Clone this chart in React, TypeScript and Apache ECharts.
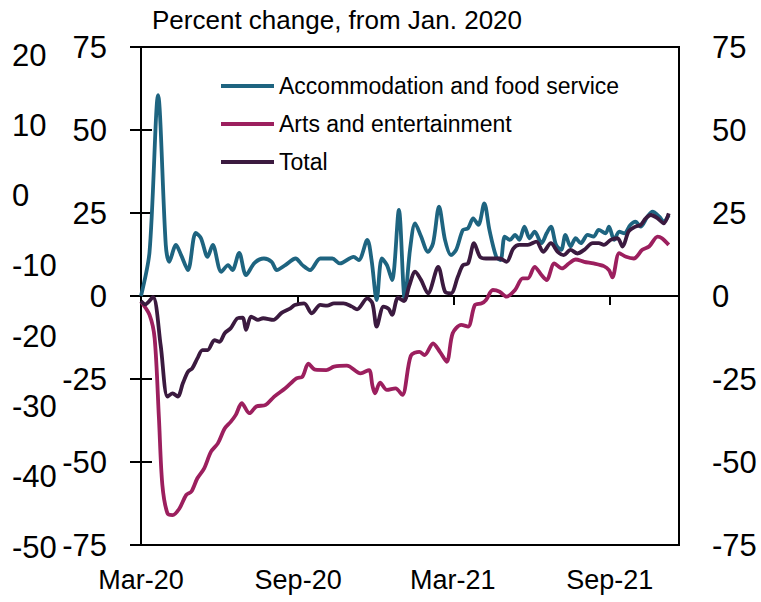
import React, { useEffect, useRef } from "react";
import * as echarts from "echarts";

// x positions are days since 1 Mar 2020
const xMaxDay = 630;
const xTickDays = [0, 184, 365, 549];
const xTickLabels = ["Mar-20", "Sep-20", "Mar-21", "Sep-21"];
const zeroLineTickInterval = 183;

const titleText = "Percent change, from Jan. 2020";
const seriesNames = ["Accommodation and food service", "Arts and entertainment", "Total"];
const seriesColors = ["#1E6480", "#9C1F5E", "#3B1A3F"];

const accomDays = [0,10,20,29,33,41,47,55,64,70,78,84,94,102,107,115,123,133,144,153,159,169,181,189,198,210,224,233,249,255,265,270,276,282,288,294,302,309,315,321,328,336,342,349,356,363,369,377,383,389,395,402,408,416,421,426,432,438,443,449,455,461,469,475,480,486,492,497,503,509,515,523,530,536,544,548,554,560,566,573,579,585,593,599,607,612,618];
const accomValues = [0,13.3,60.5,15.4,10.3,15.4,12.3,7.8,19,17.5,11.8,15.4,7.3,9.3,7.8,13,6.3,10,11.3,10.3,7.8,9.3,11.3,9.3,7.8,11.3,11.3,9.8,11.8,10.8,16.9,10.8,-1.2,11.3,9.3,4.8,25.9,-1.2,13.9,21.9,17.9,13.3,15.9,26.9,16.9,12.3,13.9,19.9,20.4,23.4,21.4,27.9,19.9,11.8,10.8,17.9,16.9,18.4,16.9,20.9,17.4,19.4,15.9,18.9,20.9,15.4,13.9,18.4,14.9,17.4,15.9,18.4,17.9,19.9,18.9,20.9,16.9,19.4,18.9,21.4,22.4,20.9,23.9,25.4,23.9,22.4,24.4];

const artsDays = [0,10,16,21,25,31,37,45,53,59,66,74,82,90,98,105,111,118,127,135,146,156,169,182,189,196,204,217,226,241,257,267,271,274,280,288,298,306,316,326,332,342,350,358,365,375,383,391,399,404,412,420,428,438,447,453,461,469,475,484,493,501,509,519,530,542,548,552,560,568,577,587,595,605,610,618];
const artsValues = [-1.7,-5.7,-12.8,-36.8,-56.9,-65.5,-66,-64,-59.9,-58.9,-54.9,-51.9,-46.9,-44.4,-39.9,-37.9,-35.8,-32.3,-35.3,-33.3,-32.8,-30.3,-27.8,-24.8,-24.3,-20.4,-22.2,-22.3,-21.3,-21,-23.3,-22.3,-27,-29.3,-26.1,-28.3,-27.8,-29.8,-18,-16.8,-17.8,-14.3,-16.8,-19.8,-11.2,-8.7,-9.2,-2.7,-2.2,-1.2,1.8,1.3,-0.2,1.8,5.3,5.3,8.8,6.3,4.8,9.8,8.3,9.8,11,10.3,9.8,9,7.8,5.6,12.9,11.8,11.3,13.9,14.9,17.9,17.4,15.4];

const totalDays = [0,5,14,23,31,37,43,49,55,60,66,72,78,86,92,98,105,113,119,123,129,137,143,155,165,175,180,191,200,210,218,226,237,247,253,265,271,276,284,290,294,301,308,314,321,328,336,348,356,363,371,377,383,390,397,404,412,420,428,436,443,453,463,471,480,488,495,503,511,519,529,536,542,550,558,564,571,579,585,591,597,605,612,618];
const totalValues = [-1.5,-2.5,-0.3,-14.8,-30.3,-29.3,-30.3,-26.3,-22.8,-21.8,-18.8,-16.3,-16.3,-13.3,-13.8,-11.2,-9.7,-6.7,-6.5,-10.2,-6.2,-7.2,-6.7,-7.2,-5.0,-3.7,-2.7,-2.2,-5.2,-2.7,-2.9,-2.2,-2.2,-3.2,-4.0,-0.7,-2.2,-9.2,-3.2,-3.9,-5.7,-0.5,-1.5,3,7.3,4.8,0.8,8.8,1.3,0.8,5.8,9.3,9.8,15.9,11.8,11.3,11.3,11.3,10.3,14.3,15.4,15.4,16.4,13.3,15.9,13.3,12.3,13.9,12.8,13.9,15.9,15.9,15.4,16.9,17.4,14.9,19.4,20.9,21.4,23.4,24.4,23.4,21.9,24.9];

// main axis range (left inner & right)
const mainMin = -75;
const mainMax = 75;
const mainInterval = 25;
// outer left scale
const outerMin = -50;
const outerMax = 20;
const outerInterval = 10;

const FONT = "'Liberation Sans', Arial, sans-serif";

function pairs(days: number[], vals: number[]) {
  return days.map((d, i) => [d, vals[i]]);
}

export default function App() {
  const ref = useRef<HTMLDivElement>(null);
  useEffect(() => {
    if (!ref.current) return;
    const chart = echarts.init(ref.current, undefined, { renderer: "svg" });
    const axisLineStyle = { color: "#000", width: 2 };
    const allSeries = [
      pairs(accomDays, accomValues),
      pairs(artsDays, artsValues),
      pairs(totalDays, totalValues),
    ];
    chart.setOption({
      animation: false,
      backgroundColor: "#fff",
      title: {
        text: titleText,
        left: 147,
        top: 2,
        textStyle: { fontFamily: FONT, fontSize: 26, fontWeight: "normal", color: "#000" },
      },
      legend: {
        orient: "vertical",
        left: 216,
        top: 67,
        itemWidth: 53,
        itemHeight: 4,
        itemGap: 10,
        icon: "rect",
        data: seriesNames.map((n, i) => ({ name: n, itemStyle: { color: seriesColors[i] } })),
        textStyle: { fontFamily: FONT, fontSize: 23, color: "#000", lineHeight: 28 },
      },
      grid: [
        { left: 141, right: 82, top: 47, bottom: 57, show: true, borderColor: "#000", borderWidth: 2 },
        { left: 141, right: 82, top: 55, bottom: 55, show: false },
      ],
      xAxis: [
        {
          type: "value",
          gridIndex: 0,
          min: 0,
          max: xMaxDay,
          position: "bottom",
          axisLine: { show: false, onZero: false },
          axisTick: { show: false },
          splitLine: { show: false },
          axisLabel: {
            customValues: xTickDays,
            margin: 21,
            fontFamily: FONT,
            fontSize: 27,
            color: "#000",
            formatter: (v: number) => {
              const i = xTickDays.indexOf(Math.round(v));
              return i >= 0 ? xTickLabels[i] : "";
            },
          },
        },
        {
          type: "value",
          gridIndex: 0,
          min: 0,
          max: xMaxDay,
          interval: zeroLineTickInterval,
          position: "bottom",
          axisLine: { show: true, onZero: true, onZeroAxisIndex: 0, lineStyle: axisLineStyle },
          axisTick: { show: true, length: 9, lineStyle: axisLineStyle },
          axisLabel: { show: false },
          splitLine: { show: false },
        },
        { type: "value", gridIndex: 1, min: 0, max: 1, show: false },
      ],
      yAxis: [
        {
          type: "value",
          gridIndex: 0,
          position: "left",
          min: mainMin,
          max: mainMax,
          interval: mainInterval,
          axisLine: { show: true, lineStyle: axisLineStyle },
          axisTick: { show: true, length: 11, lineStyle: axisLineStyle },
          splitLine: { show: false },
          axisLabel: { margin: 34, fontFamily: FONT, fontSize: 31, color: "#000" },
        },
        {
          type: "value",
          gridIndex: 0,
          position: "right",
          min: mainMin,
          max: mainMax,
          interval: mainInterval,
          axisLine: { show: true, lineStyle: axisLineStyle },
          axisTick: { show: true, length: 11, lineStyle: axisLineStyle },
          splitLine: { show: false },
          axisLabel: { margin: 33, fontFamily: FONT, fontSize: 31, color: "#000" },
        },
        {
          type: "value",
          gridIndex: 1,
          position: "left",
          min: outerMin,
          max: outerMax,
          interval: outerInterval,
          axisLine: { show: false },
          axisTick: { show: false },
          splitLine: { show: false },
          axisLabel: { margin: 129, align: "left", fontFamily: FONT, fontSize: 31, color: "#000" },
        },
      ],
      series: seriesNames.map((name, i) => ({
        name,
        type: "line",
        xAxisIndex: 0,
        yAxisIndex: 0,
        data: allSeries[i],
        showSymbol: false,
        smooth: 0.3,
        lineStyle: { color: seriesColors[i], width: 3.8 },
        itemStyle: { color: seriesColors[i] },
      })),
    });
    return () => chart.dispose();
  }, []);
  return <div ref={ref} style={{ position: "fixed", left: 0, top: 0, width: 761, height: 602 }} />;
}
